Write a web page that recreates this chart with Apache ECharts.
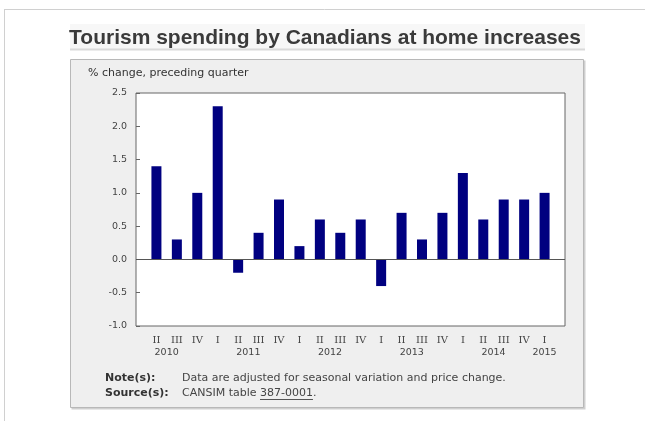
<!DOCTYPE html>
<html>
<head>
<meta charset="utf-8">
<script src="https://cdn.jsdelivr.net/npm/echarts@6/dist/echarts.min.js"></script>
<style>
html,body{margin:0;padding:0;background:#fff;}
#c{width:645px;height:421px;}
</style>
</head>
<body>
<div id="c"></div>
<script>
// ---- data ----
const quarters = ["II","III","IV","I","II","III","IV","I","II","III","IV","I","II","III","IV","I","II","III","IV","I"];
const years = ["2010","2011","2012","2013","2014","2015"];
const values = [1.4,0.3,1.0,2.3,-0.2,0.4,0.9,0.2,0.6,0.4,0.6,-0.4,0.7,0.3,0.7,1.3,0.6,0.9,0.9,1.0];
const yTicks = [-1.0,-0.5,0.0,0.5,1.0,1.5,2.0,2.5];
const titleText = "Tourism spending by Canadians at home increases";
const unitText = "% change, preceding quarter";
const noteText = "Data are adjusted for seasonal variation and price change.";
const sourceText = "CANSIM table ";
const sourceLink = "387-0001";

// ---- derived axis data ----
const romanNum = {"I":1,"II":2,"III":3,"IV":4};
const cats = [""].concat(quarters).concat([""]);
const barData = [null].concat(values).concat([null]);
let yr = 0; const yearPos = {};
quarters.forEach((q,i)=>{
  const pos = i+1;
  if (i>0 && q==="I") yr++;
  const y = years[yr];
  const q1pos = pos - (romanNum[q]-1);
  if (!(y in yearPos)) yearPos[y] = {a:q1pos,b:pos};
  yearPos[y].b = pos;
});
const nSlots = cats.length - 1;
const halfCats = [];
for (let k=0;k<=nSlots*2;k++) halfCats.push("");
years.forEach(y=>{ const p=yearPos[y]; halfCats[Math.round(p.a+p.b)] = y; });

// text measurement for the underlined link
const noteFont = '11px "DejaVu Sans"';
const mctx = document.createElement('canvas').getContext('2d');
mctx.font = noteFont;
const srcX = 182;
const linkX = srcX + mctx.measureText(sourceText).width;
const linkW = mctx.measureText(sourceLink).width;

const chart = echarts.init(document.getElementById('c'), null, {renderer:'canvas'});
const sans = "DejaVu Sans";
chart.setOption({
  animation:false,
  backgroundColor:'#ffffff',
  graphic:[
    {type:'line',shape:{x1:4,y1:9.5,x2:645,y2:9.5},style:{stroke:'#d0d0d0',lineWidth:1},z:-10},
    {type:'line',shape:{x1:4.5,y1:9,x2:4.5,y2:421},style:{stroke:'#d0d0d0',lineWidth:1},z:-10},
    {type:'rect',shape:{x:70,y:24,width:515,height:26},style:{fill:'#f7f7f7'},z:-10},
    {type:'line',shape:{x1:70,y1:49.5,x2:585,y2:49.5},style:{stroke:'#dadada',lineWidth:2},z:-9},
    {type:'text',x:325,y:38,style:{text:titleText,fill:'#3a3a3a',font:'bold 21px "Liberation Sans", Arial, sans-serif',textAlign:'center',textVerticalAlign:'middle'},z:10},
    {type:'rect',shape:{x:71.5,y:60.5,width:514,height:349},style:{fill:'#cfcfcf'},z:-10},
    {type:'rect',shape:{x:70.5,y:59.5,width:513,height:348},style:{fill:'#efefef',stroke:'#b8b8b8',lineWidth:1},z:-9},
    {type:'text',x:88,y:73,style:{text:unitText,fill:'#333333',font:'11px "DejaVu Sans"',textVerticalAlign:'middle'},z:10},
    {type:'text',x:105,y:378,style:{text:'Note(s):',fill:'#333333',font:'bold 11px "DejaVu Sans"',textVerticalAlign:'middle'},z:10},
    {type:'text',x:105,y:393,style:{text:'Source(s):',fill:'#333333',font:'bold 11px "DejaVu Sans"',textVerticalAlign:'middle'},z:10},
    {type:'text',x:srcX,y:378,style:{text:noteText,fill:'#444444',font:noteFont,textVerticalAlign:'middle'},z:10},
    {type:'text',x:srcX,y:393,style:{text:sourceText,fill:'#444444',font:noteFont,textVerticalAlign:'middle'},z:10},
    {type:'text',x:linkX,y:393,style:{text:sourceLink,fill:'#444444',font:noteFont,textVerticalAlign:'middle'},z:10},
    {type:'line',shape:{x1:linkX,y1:399.5,x2:linkX+linkW,y2:399.5},style:{stroke:'#555555',lineWidth:1},z:10},
    {type:'text',x:linkX+linkW,y:393,style:{text:'.',fill:'#444444',font:noteFont,textVerticalAlign:'middle'},z:10}
  ],
  grid:{left:136,top:93,right:80,bottom:95,show:true,backgroundColor:'#ffffff',borderColor:'#666666',borderWidth:1,containLabel:false},
  xAxis:[
    {type:'category',data:cats,boundaryGap:false,position:'bottom',
     axisLine:{show:false,onZero:false},axisTick:{show:false},splitLine:{show:false},
     axisLabel:{interval:0,margin:9,color:'#444444',fontFamily:'"DejaVu Serif", "Liberation Serif", serif',fontSize:10}},
    {type:'category',data:halfCats,boundaryGap:false,position:'bottom',
     axisLine:{show:false,onZero:false},axisTick:{show:false},splitLine:{show:false},
     axisLabel:{interval:0,margin:22,color:'#444444',fontFamily:sans,fontSize:9.5}}
  ],
  yAxis:{type:'value',min:yTicks[0],max:yTicks[yTicks.length-1],interval:0.5,
    axisLine:{show:false},splitLine:{show:false},
    axisTick:{show:true,inside:true,length:4,lineStyle:{color:'#666666'}},
    axisLabel:{margin:9,color:'#444444',fontFamily:sans,fontSize:9.5,formatter:v=>v.toFixed(1)}},
  series:[{
    type:'bar',xAxisIndex:0,data:barData,barWidth:10,
    itemStyle:{color:'#000080'},
    markLine:{silent:true,symbol:'none',label:{show:false},
      lineStyle:{color:'#555555',type:'solid',width:1},data:[{yAxis:0}]}
  }]
});
</script>
</body>
</html>
